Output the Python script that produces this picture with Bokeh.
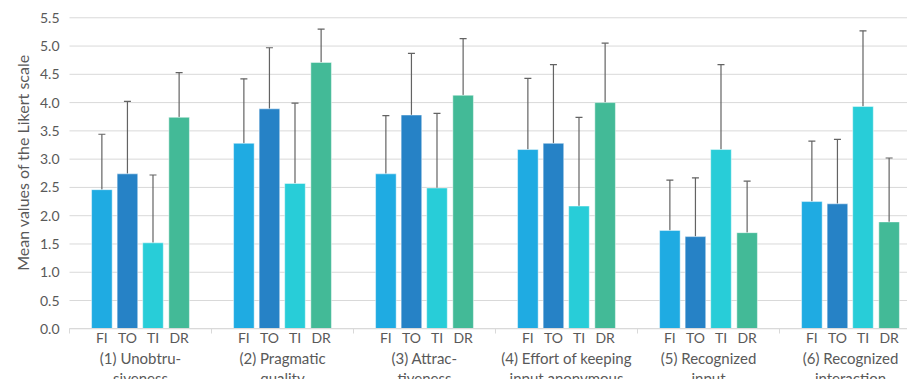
import math
from bokeh.plotting import figure
from bokeh.models import (ColumnDataSource, FixedTicker, Range1d, Whisker, TeeHead,
                          NumeralTickFormatter, LinearAxis)
from bokeh.core.properties import value
from bokeh.embed import file_html
from bokeh.resources import INLINE

groups = ["(1) Unobtru-\nsiveness", "(2) Pragmatic\nquality", "(3) Attrac-\ntiveness",
          "(4) Effort of keeping\ninput anonymous", "(5) Recognized\ninput",
          "(6) Recognized\ninteraction"]
conditions = ["FI", "TO", "TI", "DR"]
colors = ["#1FABE2", "#2682C6", "#28CDD8", "#43BA97"]

means = {
    "FI": [2.46, 3.28, 2.74, 3.17, 1.74, 2.25],
    "TO": [2.74, 3.89, 3.78, 3.28, 1.63, 2.21],
    "TI": [1.52, 2.57, 2.49, 2.17, 3.17, 3.93],
    "DR": [3.74, 4.71, 4.13, 4.00, 1.70, 1.89],
}
upper = {
    "FI": [3.44, 4.42, 3.77, 4.43, 2.63, 3.32],
    "TO": [4.02, 4.97, 4.87, 4.67, 2.67, 3.35],
    "TI": [2.72, 3.99, 3.81, 3.74, 4.67, 5.27],
    "DR": [4.53, 5.30, 5.13, 5.05, 2.61, 3.02],
}
y_ticks = [0.0, 0.5, 1.0, 1.5, 2.0, 2.5, 3.0, 3.5, 4.0, 4.5, 5.0, 5.5]
y_title = "Mean values of the Likert scale"

offsets = [-0.272, -0.092, 0.088, 0.272]
bar_w = 0.145
TEXT = "#595959"
GRID = "#D9D9D9"
FONT = "Lato"

W, H = 907, 379
GPX = 142.0          # pixels per group
YPX = 56.55          # pixels per unit
X0PX, Y0PX = 69.0, 328.3
x_start, x_end = -X0PX / GPX, (W - X0PX) / GPX
y_start, y_end = -(H - Y0PX) / YPX, Y0PX / YPX

p = figure(width=W, height=H, output_backend="svg", toolbar_location=None,
           x_range=Range1d(x_start, x_end), y_range=Range1d(y_start, y_end),
           x_axis_location=None, y_axis_location=None, min_border=0)
p.outline_line_color = None
p.background_fill_color = "white"
p.border_fill_color = "white"
p.xgrid.grid_line_color = None
p.ygrid.grid_line_color = None

# horizontal grid lines
p.segment(x0=[0.0] * len(y_ticks), x1=[x_end] * len(y_ticks), y0=y_ticks, y1=y_ticks,
          line_color=GRID, line_width=1, level="underlay")

tick_pos, tick_lab = [], {}
for ci, c in enumerate(conditions):
    xs = [g + 0.5 + offsets[ci] for g in range(len(groups))]
    src = ColumnDataSource(dict(x=xs, top=means[c], up=upper[c]))
    p.vbar(x="x", top="top", width=bar_w, bottom=0, source=src,
           fill_color=colors[ci], line_color="white", line_alpha=0.45, line_width=1)
    p.add_layout(Whisker(source=src, base="x", upper="up", lower="top",
                         line_color="#636363", line_width=1.2,
                         upper_head=TeeHead(size=7, line_color="#636363", line_width=1.2),
                         lower_head=None))
    for x in xs:
        tick_pos.append(x)
        tick_lab[x] = c

xa = LinearAxis(fixed_location=0, bounds=(0, x_end))
xa.ticker = FixedTicker(ticks=sorted(tick_pos),
                        minor_ticks=[float(i) for i in range(len(groups) + 1)])
xa.major_label_overrides = tick_lab
xa.major_tick_line_color = None
xa.major_tick_out = 0
xa.major_tick_in = 0
xa.minor_tick_out = 5
xa.minor_tick_in = 0
xa.minor_tick_line_color = GRID
xa.axis_line_color = GRID
xa.major_label_text_font = FONT
xa.major_label_text_font_size = "14px"
xa.major_label_text_color = TEXT
xa.major_label_standoff = -5
p.add_layout(xa, "below")

ya = LinearAxis(fixed_location=0)
ya.ticker = FixedTicker(ticks=y_ticks)
ya.formatter = NumeralTickFormatter(format="0.0")
ya.axis_line_color = None
ya.major_tick_line_color = None
ya.major_tick_out = 0
ya.minor_tick_line_color = None
ya.major_label_standoff = 10
ya.major_label_text_font = FONT
ya.major_label_text_font_size = "14px"
ya.major_label_text_color = TEXT
p.add_layout(ya, "left")

# y axis title
p.text(x=[(21.7 - X0PX) / GPX], y=[(Y0PX - 162) / YPX], text=[y_title],
       angle=math.pi / 2, text_align="center", text_baseline="middle",
       text_font=value(FONT), text_font_size="16px", text_color=TEXT)

# group labels
p.text(x=[g + 0.5 for g in range(len(groups))], y=[(Y0PX - 348.5) / YPX] * len(groups),
       text=groups, text_align="center", text_baseline="top",
       text_font=value(FONT), text_font_size="15px", text_color=TEXT,
       text_line_height=1.1)

open("out.html", "w").write(file_html(p, INLINE))
